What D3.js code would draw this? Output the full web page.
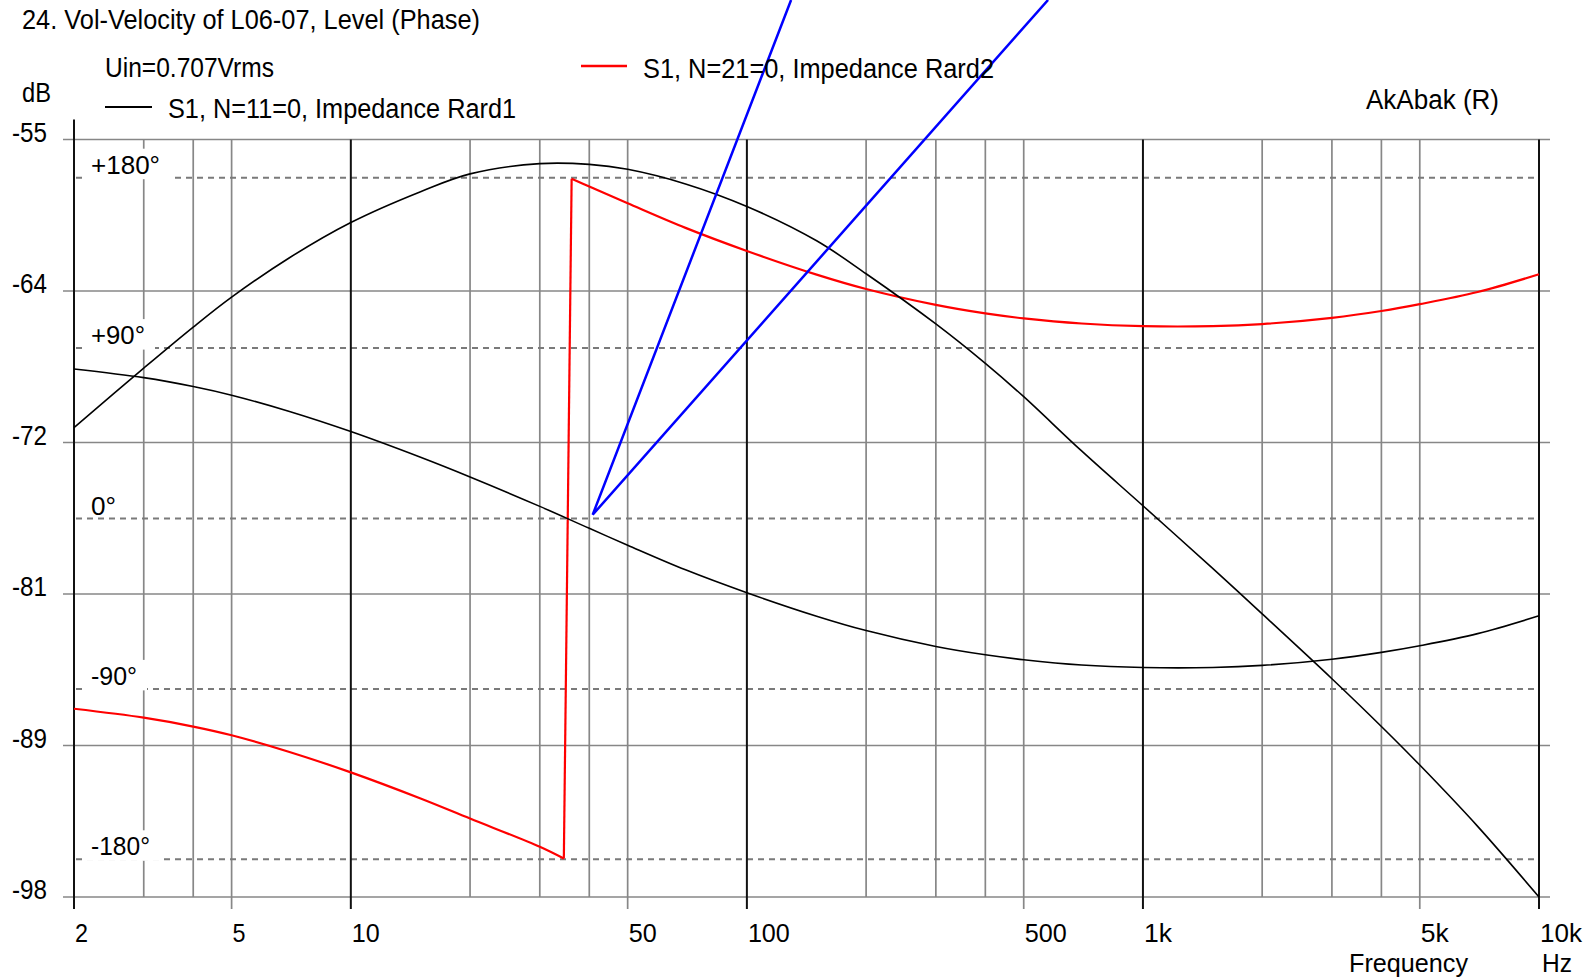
<!DOCTYPE html>
<html><head><meta charset="utf-8">
<script src="https://cdn.jsdelivr.net/npm/d3@7/dist/d3.min.js"></script>
<style>
body{margin:0;background:#fff;}
svg{display:block;}
text{font-family:"Liberation Sans",Arial,sans-serif;fill:#000;}
</style>
</head><body>
<svg id="c" width="1593" height="980"></svg>
<script>
// ---------- data ----------
const freqs = [2,3,4,5,7,10,15,20,30,40,50,70,100,150,200,300,400,500,700,1000,1500,2000,3000,4000,5000,7000,10000];
const levelDb = [-71.35,-67.98,-65.65,-63.95,-61.71,-59.71,-57.96,-56.95,-56.37,-56.41,-56.69,-57.52,-58.8,-60.75,-62.62,-65.47,-67.71,-69.6,-72.68,-75.79,-79.35,-81.93,-85.61,-88.32,-90.51,-93.99,-98.0];
const phaseRard1 = [79.0,74.4,69.7,65.1,56.5,45.9,32.3,21.9,6.4,-5.2,-14.1,-27.1,-39.2,-51.6,-59.2,-67.6,-72.0,-74.6,-77.4,-78.7,-78.7,-77.6,-74.3,-70.7,-67.2,-60.8,-51.4];

const redFreqs = [2,3,4,5,7,10,15,20,30,34.5,36.1,40,50,70,100,150,200,300,400,500,700,1000,1500,2000,3000,4000,5000,7000,10000];
const phaseRard2 = [-100.5,-105.2,-109.9,-114.5,-123.3,-134.1,-147.9,-158.5,-173.4,-179.6,179.5,175.3,166.5,153.5,141.3,128.8,121.2,112.8,108.3,105.7,103.0,101.6,101.6,102.7,106.0,109.6,113.2,119.6,129.0];

// annotation (blue pointer lines) in data units: frequency, dB
const annotFreq = [129.3, 40.8, 576];
const annotDb = [-47.08, -76.3, -47.08];

const dbTicks = [-55,-63.6,-72.2,-80.8,-89.4,-98];
const dbTickLabels = ["-55","-64","-72","-81","-89","-98"];
const phaseTicks = [180,90,0,-90,-180];
const phaseTickLabels = ["+180°","+90°","0°","-90°","-180°"];
const gridFreqs = [2,3,4,5,10,20,30,40,50,100,200,300,400,500,1000,2000,3000,4000,5000,10000];
const decadeFreqs = [2,10,100,1000,10000];
const labelFreqs = [2,5,10,50,100,500,1000,5000,10000];
const labelFreqText = ["2","5","10","50","100","500","1k","5k","10k"];

// ---------- scales ----------
const svg = d3.select("#c");
const x = d3.scaleLog().domain([2,10000]).range([74,1539]);
const yDb = d3.scaleLinear().domain([-98,-55]).range([897,139.5]);
const yPh = d3.scaleLinear().domain([-180,180]).range([859.3,177.7]);

const gray = "#878787";
const xL = x.range()[0], xR = x.range()[1];
const yT = yDb.range()[1], yB = yDb.range()[0];
const FS = 27;

function txt(g, xx, yy, s, w, size){
  const t = g.append("text").attr("x",xx).attr("y",yy).style("font-size",(size||FS)+"px").text(s);
  if (w) t.attr("textLength",w).attr("lengthAdjust","spacingAndGlyphs");
  return t;
}

// ---------- grid ----------
const grid = svg.append("g");
grid.selectAll("line.h").data(dbTicks).enter().append("line")
  .attr("x1",xL-11).attr("x2",xR+11)
  .attr("y1",d=>yDb(d)).attr("y2",d=>yDb(d))
  .attr("stroke",gray).attr("stroke-width",1.7);

grid.selectAll("line.v").data(gridFreqs.filter(f=>!decadeFreqs.includes(f))).enter().append("line")
  .attr("x1",d=>x(d)).attr("x2",d=>x(d))
  .attr("y1",yT).attr("y2",d=>labelFreqs.includes(d)?yB+12:yB)
  .attr("stroke",gray).attr("stroke-width",1.7);

grid.selectAll("line.ph").data(phaseTicks).enter().append("line")
  .attr("x1",xL+2).attr("x2",xR-5)
  .attr("y1",d=>yPh(d)).attr("y2",d=>yPh(d))
  .attr("stroke","#7a7a7a").attr("stroke-width",2).attr("stroke-dasharray","6,5");

grid.selectAll("line.d").data(decadeFreqs).enter().append("line")
  .attr("x1",d=>x(d)).attr("x2",d=>x(d))
  .attr("y1",d=>d===2?yT-20:yT).attr("y2",yB+12)
  .attr("stroke","#111").attr("stroke-width",2);

// phase labels with white boxes
const phW = [69,54,25,46,59];
const phCover = [true,true,false,true,true];
const phG = svg.append("g");
phaseTicks.forEach((p,i)=>{
  const yy = yPh(p);
  const t = txt(phG, 91, yy-4, phaseTickLabels[i], phW[i], 25);
  const bb = t.node().getBBox();
  const bottom = phCover[i] ? yy+1.5 : yy-3;
  phG.insert("rect","text").attr("x",82).attr("y",bb.y-2)
    .attr("width",bb.x+bb.width+10-82).attr("height",bottom-(bb.y-2))
    .attr("fill","#fff");
});

// dB labels
const axG = svg.append("g");
dbTicks.forEach((d,i)=>txt(axG, 12, yDb(d)+2, dbTickLabels[i], 35));
// freq labels
const fW = [13,13,28,28,42,42,28,28,42];
labelFreqs.forEach((f,i)=>txt(axG, x(f)+1, 942, labelFreqText[i], fW[i], 26));
txt(axG, 1349, 972, "Frequency", 119, 25);
txt(axG, 1542, 972, "Hz", 30, 25);

// ---------- curves ----------
const cv = d3.curveCatmullRom.alpha(0.5);
const lineDb = d3.line().x(d=>x(d[0])).y(d=>yDb(d[1])).curve(cv);
const linePh = d3.line().x(d=>x(d[0])).y(d=>yPh(d[1])).curve(cv);
const linePhStraight = d3.line().x(d=>x(d[0])).y(d=>yPh(d[1]));

const redPts = redFreqs.map((f,i)=>[f,phaseRard2[i]]);
const jump = redPts.findIndex((p,i)=>i>0 && p[1]-redPts[i-1][1] > 180);
const redStyle = p => p.attr("fill","none").attr("stroke","#ff0000").attr("stroke-width",2.2).attr("stroke-linejoin","round");
redStyle(svg.append("path").datum(redPts.slice(0,jump)).attr("d",linePh));
redStyle(svg.append("path").datum(redPts.slice(jump-1,jump+1)).attr("d",linePhStraight));
redStyle(svg.append("path").datum(redPts.slice(jump)).attr("d",linePh));

svg.append("path").datum(freqs.map((f,i)=>[f,levelDb[i]]))
  .attr("d",lineDb).attr("fill","none").attr("stroke","#000").attr("stroke-width",1.6);
svg.append("path").datum(freqs.map((f,i)=>[f,phaseRard1[i]]))
  .attr("d",linePh).attr("fill","none").attr("stroke","#000").attr("stroke-width",1.6);

// blue annotation
svg.append("path").datum(annotFreq.map((f,i)=>[f,annotDb[i]]))
  .attr("d",d3.line().x(d=>x(d[0])).y(d=>yDb(d[1])))
  .attr("fill","none").attr("stroke","#0000ff").attr("stroke-width",2.5);

// ---------- header texts ----------
const hd = svg.append("g");
txt(hd, 22, 29, "24. Vol-Velocity of L06-07, Level (Phase)", 458);
txt(hd, 105, 77, "Uin=0.707Vrms", 169);
txt(hd, 22, 102, "dB", 29);
hd.append("line").attr("x1",105).attr("x2",152).attr("y1",107).attr("y2",107).attr("stroke","#000").attr("stroke-width",2);
txt(hd, 168, 118, "S1, N=11=0, Impedance Rard1", 348);
hd.append("line").attr("x1",581).attr("x2",627).attr("y1",66).attr("y2",66).attr("stroke","#ff0000").attr("stroke-width",2.5);
txt(hd, 643, 78, "S1, N=21=0, Impedance Rard2", 351);
txt(hd, 1366, 109, "AkAbak (R)", 133);
</script>
</body></html>
